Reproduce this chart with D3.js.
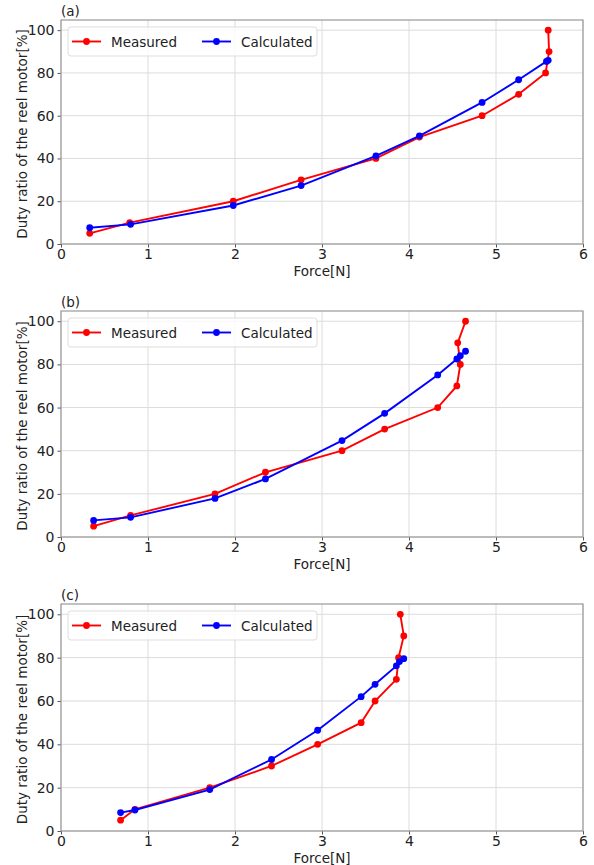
<!DOCTYPE html>
<html>
<head>
<meta charset="utf-8">
<script src="https://cdn.jsdelivr.net/npm/d3@7"></script>
<style>
  body { margin: 0; background: #fff; }
  svg { font-family: "DejaVu Sans", sans-serif; }
</style>
</head>
<body>
<svg id="chart" width="594" height="865"></svg>
<script>
// duty ratio levels (measured, %)
const panelNames = ["(a)", "(b)", "(c)"];

const measuredForce = [
  [0.33, 0.79, 1.98, 2.76, 3.62, 4.12, 4.84, 5.26, 5.57, 5.61, 5.60],
  [0.375, 0.80, 1.77, 2.35, 3.23, 3.72, 4.33, 4.55, 4.59, 4.56, 4.65],
  [0.685, 0.85, 1.71, 2.42, 2.95, 3.45, 3.61, 3.855, 3.88, 3.94, 3.90]
];
const measuredDuty = [
  [5, 10, 20, 30, 40, 50, 60, 70, 80, 90, 100],
  [5, 10, 20, 30, 40, 50, 60, 70, 80, 90, 100],
  [5, 10, 20, 30, 40, 50, 60, 70, 80, 90, 100]
];

const calcForce = [
  [0.33, 0.80, 1.98, 2.76, 3.62, 4.12, 4.84, 5.26, 5.58, 5.60],
  [0.375, 0.80, 1.77, 2.35, 3.23, 3.72, 4.33, 4.55, 4.59, 4.65],
  [0.685, 0.85, 1.71, 2.42, 2.95, 3.45, 3.61, 3.855, 3.89, 3.94]
];
const calcDuty = [
  [7.6, 9.2, 18.0, 27.3, 41.2, 50.6, 66.2, 76.8, 85.4, 85.9],
  [7.7, 9.1, 17.9, 26.9, 44.7, 57.3, 75.1, 82.5, 84.0, 86.1],
  [8.5, 9.7, 19.1, 33.0, 46.5, 62.0, 67.7, 76.2, 78.2, 79.5]
];

const xTicks = [0, 1, 2, 3, 4, 5, 6];
const yTicks = [0, 20, 40, 60, 80, 100];
const seriesNames = ["Measured", "Calculated"];
const seriesColors = ["#ff0000", "#0000ff"];

const svg = d3.select("#chart");

// plot area for each panel
const left = 61, right = 583;
const tops = [20, 311, 604];
const bottoms = [244, 537, 831];

const x = d3.scaleLinear().domain([0, 6]).range([left, right]);

panelNames.forEach((name, i) => {
  const y = d3.scaleLinear().domain([0, 104.75]).range([bottoms[i], tops[i]]);
  const g = svg.append("g");

  // grid
  g.append("g").selectAll("line.vx")
    .data(xTicks)
    .enter().append("line")
      .attr("x1", d => x(d)).attr("x2", d => x(d))
      .attr("y1", tops[i]).attr("y2", bottoms[i])
      .attr("stroke", "#dcdcdc").attr("stroke-width", 1);
  g.append("g").selectAll("line.hy")
    .data(yTicks)
    .enter().append("line")
      .attr("x1", left).attr("x2", right)
      .attr("y1", d => y(d)).attr("y2", d => y(d))
      .attr("stroke", "#dcdcdc").attr("stroke-width", 1);

  // axes
  const xAxis = g.append("g")
    .attr("transform", `translate(0,${bottoms[i]})`)
    .call(d3.axisBottom(x).tickValues(xTicks).tickSize(3.5).tickPadding(2).tickFormat(d3.format("d")));
  const yAxis = g.append("g")
    .attr("transform", `translate(${left},0)`)
    .call(d3.axisLeft(y).tickValues(yTicks).tickSize(3.5).tickPadding(3).tickFormat(d3.format("d")));
  [xAxis, yAxis].forEach(a => {
    a.select(".domain").remove();
    a.selectAll(".tick line").attr("stroke", "#555");
    a.selectAll(".tick text").attr("font-size", 14).attr("fill", "#222")
      .attr("font-family", "DejaVu Sans");
  });

  // frame
  g.append("rect")
    .attr("x", left).attr("y", tops[i])
    .attr("width", right - left).attr("height", bottoms[i] - tops[i])
    .attr("fill", "none").attr("stroke", "#999").attr("stroke-width", 1.2);

  // series
  const sets = [
    measuredForce[i].map((f, k) => [f, measuredDuty[i][k]]),
    calcForce[i].map((f, k) => [f, calcDuty[i][k]])
  ];
  const line = d3.line().x(d => x(d[0])).y(d => y(d[1]));
  sets.forEach((pts, s) => {
    g.append("path")
      .datum(pts)
      .attr("d", line)
      .attr("fill", "none")
      .attr("stroke", seriesColors[s])
      .attr("stroke-width", 1.9);
    g.append("g").selectAll("circle")
      .data(pts)
      .enter().append("circle")
        .attr("cx", d => x(d[0]))
        .attr("cy", d => y(d[1]))
        .attr("r", 3.4)
        .attr("fill", seriesColors[s]);
  });

  // panel label
  g.append("text")
    .attr("x", left).attr("y", tops[i] - 4)
    .attr("font-size", 13.5).attr("fill", "#222")
    .text(name);

  // axis labels
  g.append("text")
    .attr("x", (left + right) / 2).attr("y", bottoms[i] + 32)
    .attr("text-anchor", "middle")
    .attr("font-size", 13.5).attr("fill", "#222")
    .text("Force[N]");
  g.append("text")
    .attr("transform", `translate(27,${(tops[i] + bottoms[i]) / 2 + 2}) rotate(-90)`)
    .attr("text-anchor", "middle")
    .attr("font-size", 13.5).attr("fill", "#222")
    .text("Duty ratio of the reel motor[%]");

  // legend
  const lg = g.append("g").attr("transform", `translate(${left + 7},${tops[i] + 7})`);
  lg.append("rect")
    .attr("width", 249).attr("height", 29).attr("rx", 3)
    .attr("fill", "#fff").attr("fill-opacity", 0.8)
    .attr("stroke", "#ddd");
  seriesNames.forEach((sn, s) => {
    const ox = 4 + s * 130;
    lg.append("line")
      .attr("x1", ox).attr("x2", ox + 29)
      .attr("y1", 14.5).attr("y2", 14.5)
      .attr("stroke", seriesColors[s]).attr("stroke-width", 1.9);
    lg.append("circle")
      .attr("cx", ox + 14.5).attr("cy", 14.5).attr("r", 3.4)
      .attr("fill", seriesColors[s]);
    lg.append("text")
      .attr("x", ox + 39).attr("y", 19.5)
      .attr("font-size", 13.5).attr("fill", "#222")
      .text(sn);
  });
});
</script>
</body>
</html>
